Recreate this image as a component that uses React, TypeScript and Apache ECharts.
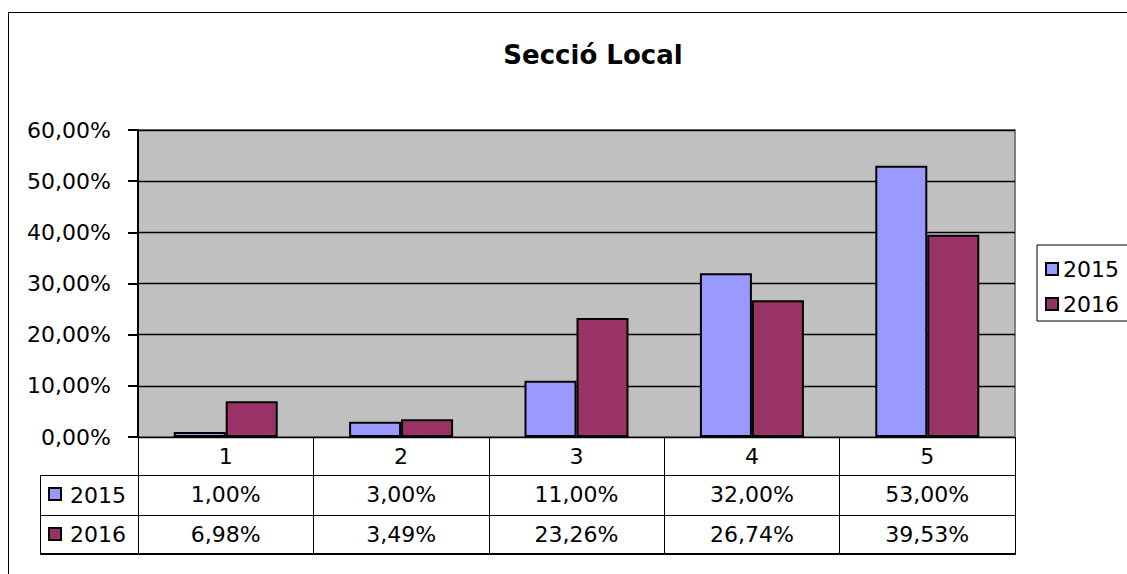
import React, { useEffect, useRef } from "react";
import * as echarts from "echarts";

const categories = ["1", "2", "3", "4", "5"];
const seriesNames = ["2015", "2016"];
const values2015 = [1, 3, 11, 32, 53];
const values2016 = [6.98, 3.49, 23.26, 26.74, 39.53];
const colors = ["#9999ff", "#993366"];
const yMin = 0;
const yMax = 60;
const yInterval = 10;

const FONT = "DejaVu Sans";
const fmt = (v: number) => v.toFixed(2).replace(".", ",") + "%";

export default function App() {
  const ref = useRef<HTMLDivElement>(null);

  useEffect(() => {
    if (!ref.current) return;
    const chart = echarts.init(ref.current, null, { renderer: "svg" });

    const labelStyle = { fontFamily: FONT, fontSize: 22, color: "#000" };
    const catAxis = (data: string[], offset: number, tickLen: number) => ({
      type: "category",
      gridIndex: 0,
      position: "bottom",
      offset,
      data,
      axisLine: { show: true, lineStyle: { color: "#000", width: 1 } },
      axisTick: { show: true, length: tickLen, lineStyle: { color: "#000", width: 1 } },
      axisLabel: { ...labelStyle, margin: 8, interval: 0 },
      splitLine: { show: false },
    });

    const option: any = {
      animation: false,
      backgroundColor: "#ffffff",
      title: {
        text: "Secció Local",
        left: 588,
        top: 37,
        textAlign: "center",
        textStyle: { fontFamily: FONT, fontWeight: "bold", fontSize: 26, color: "#000" },
      },
      legend: {
        orient: "vertical",
        left: 1037,
        top: 245,
        data: seriesNames,
        borderColor: "#000",
        borderWidth: 1,
        padding: [13, 30, 6, 8],
        itemWidth: 12,
        itemHeight: 12,
        itemGap: 13,
        icon: "rect",
        textStyle: { fontFamily: FONT, fontSize: 22, color: "#000", lineHeight: 22 },
      },
      grid: {
        left: 138,
        top: 130,
        width: 877,
        height: 307,
        show: true,
        backgroundColor: "#c0c0c0",
        borderColor: "#808080",
        borderWidth: 2,
      },
      xAxis: [
        catAxis(categories, 0, 38),
        catAxis(values2015.map(fmt), 38, 40),
        catAxis(values2016.map(fmt), 78, 39),
      ],
      yAxis: {
        type: "value",
        min: yMin,
        max: yMax,
        interval: yInterval,
        axisLine: { show: true, lineStyle: { color: "#000", width: 2 } },
        axisTick: { show: true, length: 10, lineStyle: { color: "#000", width: 2 } },
        axisLabel: { ...labelStyle, margin: 27, formatter: (v: number) => fmt(v) },
        splitLine: { show: true, lineStyle: { color: "#000", width: 1.3 } },
      },
      series: [values2015, values2016].map((vals, i) => ({
        name: seriesNames[i],
        type: "bar",
        xAxisIndex: 0,
        data: vals,
        barWidth: 52,
        barGap: "0%",
        itemStyle: { color: colors[i], borderColor: "#000", borderWidth: 2 },
      })),
      graphic: [
        {
          type: "rect",
          shape: { x: 8.5, y: 12.5, width: 1400, height: 800 },
          style: { fill: "none", stroke: "#000", lineWidth: 1 },
          silent: true,
        },
        { type: "line", shape: { x1: 40.5, y1: 475, x2: 40.5, y2: 554 }, style: { stroke: "#000", lineWidth: 1 } },
        { type: "line", shape: { x1: 40, y1: 475.5, x2: 138, y2: 475.5 }, style: { stroke: "#000", lineWidth: 1 } },
        { type: "line", shape: { x1: 40, y1: 515.5, x2: 138, y2: 515.5 }, style: { stroke: "#000", lineWidth: 1 } },
        { type: "line", shape: { x1: 40, y1: 554, x2: 1016, y2: 554 }, style: { stroke: "#000", lineWidth: 2 } },
        ...seriesNames.flatMap((name, i) => [
          {
            type: "rect",
            shape: { x: 49, y: 488 + i * 40, width: 12, height: 12 },
            style: { fill: colors[i], stroke: "#000", lineWidth: 2 },
          },
          {
            type: "text",
            x: 70,
            y: 495 + i * 39,
            style: { text: name, fontFamily: FONT, fontSize: 22, fill: "#000", verticalAlign: "middle", align: "left" },
          },
        ]),
      ],
    };

    chart.setOption(option);
    return () => chart.dispose();
  }, []);

  return (
    <div
      ref={ref}
      style={{ position: "absolute", left: 0, top: 0, width: 1127, height: 574 }}
    />
  );
}
